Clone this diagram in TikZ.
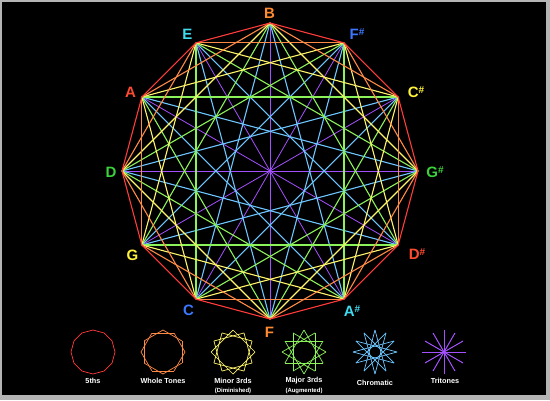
\documentclass[tikz,border=0pt]{standalone}
\usepackage{fontspec}
\setmainfont{Liberation Sans}
\usetikzlibrary{calc}
\definecolor{cfifth}{HTML}{FF3B3B}
\definecolor{cwhole}{HTML}{FF8A45}
\definecolor{cmin}{HTML}{FFF56A}
\definecolor{cmaj}{HTML}{8CF25A}
\definecolor{cchrom}{HTML}{6EC6FF}
\definecolor{ctri}{HTML}{A550FF}
\definecolor{lorange}{HTML}{FF8A30}
\definecolor{lcyan}{HTML}{3EDCEE}
\definecolor{lblue}{HTML}{3B78FF}
\definecolor{lred}{HTML}{FF4A32}
\definecolor{lyellow}{HTML}{FFF23A}
\definecolor{lgreen}{HTML}{3CD23C}
\definecolor{frame}{HTML}{B4B4B4}
\tikzset{
  link/.style={line width=1.1pt},
  trilink/.style={line width=0.8pt},
  lglink/.style={line width=0.7pt},
  notelab/.style={font=\fontsize{15}{15}\selectfont\bfseries, inner sep=0pt},
  legtext/.style={text=white, font=\fontsize{7.3}{8}\selectfont\bfseries, inner sep=0pt, align=center},
}
\newcommand{\shp}{\raisebox{0.5ex}{\fontsize{10}{10}\selectfont\#}}
\begin{document}
\begin{tikzpicture}[x=1pt,y=-1pt]
\useasboundingbox (0,0) rectangle (550,400);
\fill[frame] (0,0) rectangle (550,400);
\fill[black] (2,2) rectangle (546,395);
% vertices
\foreach \k in {0,...,11} {
  \coordinate (v\k) at ({270+148*cos(90-30*\k)},{171-148*sin(90-30*\k)});
}
% tritones
\foreach \i in {0,...,5} {
  \pgfmathtruncatemacro\j{\i+6}
  \draw[trilink,ctri] (v\i) -- (v\j);
}
% other connectors
\foreach \s/\col in {5/cchrom,4/cmaj,3/cmin,2/cwhole,1/cfifth} {
  \foreach \i in {0,...,11} {
    \pgfmathtruncatemacro\j{mod(\i+\s,12)}
    \draw[link,\col] (v\i) -- (v\j);
  }
}
\fill[ctri] (270,171) circle (1.6pt);
% labels
\node[notelab,text=lorange] (lB) at (269.5,13) {B};
\node[notelab,text=lblue] (lFs) at (357,34) {F\shp};
\node[notelab,text=lyellow] (lCs) at (416,92) {C\shp};
\node[notelab,text=lgreen] (lGs) at (435,172) {G\shp};
\node[notelab,text=lred] (lDs) at (417,254) {D\shp};
\node[notelab,text=lcyan] (lAs) at (352,311) {A\shp};
\node[notelab,text=lorange] (lF) at (269.5,332) {F};
\node[notelab,text=lblue] (lC) at (188.5,310) {C};
\node[notelab,text=lyellow] (lG) at (132.5,255) {G};
\node[notelab,text=lgreen] (lD) at (111,172) {D};
\node[notelab,text=lred] (lA) at (130.5,92) {A};
\node[notelab,text=lcyan] (lE) at (187.5,34) {E};
% legend icons
\foreach \cx/\s/\col in {93/1/cfifth,163/2/cwhole,233/3/cmin,304/4/cmaj,375/5/cchrom,444/6/ctri} {
  \foreach \i in {0,...,11} {
    \pgfmathsetmacro\aa{90-30*\i}
    \pgfmathsetmacro\bb{90-30*(\i+\s)}
    \draw[lglink,\col] ({\cx+22*cos(\aa)},{352-22*sin(\aa)}) -- ({\cx+22*cos(\bb)},{352-22*sin(\bb)});
  }
}
\fill[ctri] (444,352) circle (1.3pt);
% legend texts
\node[legtext] (t1) at (93,381) {5ths};
\node[legtext] (t2) at (163,381) {Whole Tones};
\node[legtext] (t3) at (233,381) {Minor 3rds};
\node[legtext] (t3b) at (233,391) {\fontsize{6}{7}\selectfont(Diminished)};
\node[legtext] (t4) at (304,381) {Major 3rds};
\node[legtext] (t4b) at (304,391) {\fontsize{6}{7}\selectfont(Augmented)};
\node[legtext] (t5) at (375,382.5) {Chromatic};
\node[legtext] (t6) at (445,380.5) {Tritones};
\end{tikzpicture}
\end{document}
